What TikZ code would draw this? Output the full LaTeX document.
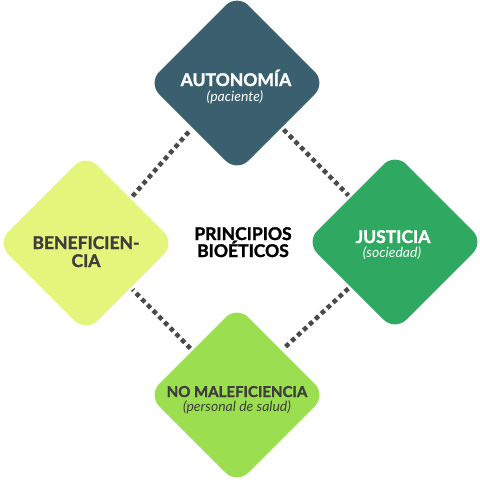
\documentclass[tikz,border=0pt]{standalone}
\usepackage{fontspec}
\setmainfont{Lato}[BoldFeatures={FakeBold=1.5}]
\usetikzlibrary{shapes.geometric}
\definecolor{cTop}{HTML}{3A5F6E}
\definecolor{cRight}{HTML}{2FA862}
\definecolor{cBottom}{HTML}{9BDE4F}
\definecolor{cLeft}{HTML}{E3F57A}
\definecolor{cDark}{HTML}{3E3E3E}
\definecolor{cDots}{HTML}{4A4A4A}
\begin{document}
\begin{tikzpicture}[x=1pt,y=-1pt,
  principle/.style={diamond, aspect=1, minimum width=178pt, minimum height=178pt,
    inner sep=0pt, outer sep=0pt, rounded corners=16pt},
  ttl/.style={anchor=base, inner sep=0pt, font=\fontsize{17.5}{18}\selectfont\bfseries},
  smallttl/.style={anchor=base, inner sep=0pt, font=\fontsize{15}{16}\selectfont\bfseries},
  sub/.style={anchor=base, inner sep=0pt, font=\fontsize{14}{15}\selectfont\itshape},
  dots/.style={draw=cDots, line width=4.5pt, dash pattern=on 4.5pt off 3.6pt,
    shorten <=3pt, shorten >=3pt}]
\useasboundingbox[fill=white] (0,0) rectangle (480,480);
\node[principle, fill=cTop]    (top)    at (237,83)  {};
\node[principle, fill=cLeft]   (left)   at (86,243)  {};
\node[principle, fill=cRight]  (right)  at (395,242) {};
\node[principle, fill=cBottom] (bottom) at (237,395) {};
\draw[dots] (left.north east) -- (top.south west);
\draw[dots] (top.south east) -- (right.north west);
\draw[dots] (right.south west) -- (bottom.north east);
\draw[dots] (bottom.north west) -- (left.south east);
\node[ttl, text=white] (ttop) at (236,86) {AUTONOMÍA};
\node[sub, text=white] (stop) at (235,101.5) {(paciente)};
\node[ttl, text=cDark] (tleft1) at (86,249) {BENEFICIEN-};
\node[ttl, text=cDark] (tleft2) at (86,267) {CIA};
\node[ttl, text=white] (tright) at (393,243) {JUSTICIA};
\node[sub, text=white] (sright) at (392,257.5) {(sociedad)};
\node[smallttl, text=cDark] (tbottom) at (237,397) {NO MALEFICIENCIA};
\node[sub, text=cDark] (sbottom) at (237,411.5) {(personal de salud)};
\node[ttl, text=black] (center1) at (243,240) {PRINCIPIOS};
\node[ttl, text=black] (center2) at (243,257) {BIOÉTICOS};
\end{tikzpicture}
\end{document}
